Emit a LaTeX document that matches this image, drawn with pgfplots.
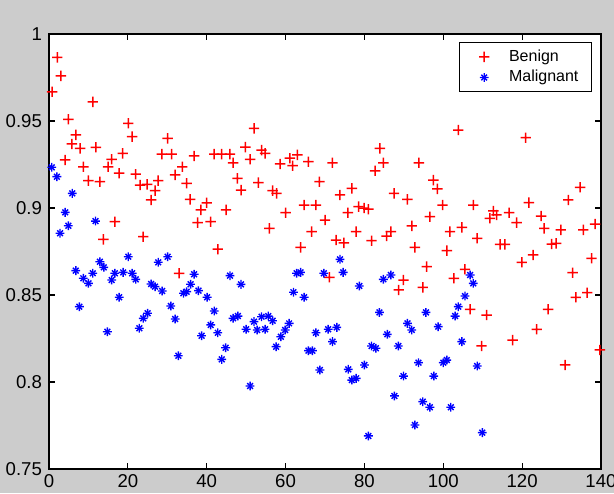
\documentclass[border=0pt]{standalone}
\usepackage{fontspec}
\setmainfont{Liberation Sans}
\usepackage{pgfplots}
\pgfplotsset{compat=1.18}

\definecolor{figgray}{RGB}{204,204,204}

% marks drawn as filled bars (plus; plus and cross for the asterisk)
\pgfdeclareplotmark{mplus}{%
  \pgfsetfillcolor{red}%
  \pgfpathrectangle{\pgfqpoint{-\pgfplotmarksize}{-0.375pt}}{\pgfqpoint{2\pgfplotmarksize}{0.75pt}}%
  \pgfpathrectangle{\pgfqpoint{-0.375pt}{-\pgfplotmarksize}}{\pgfqpoint{0.75pt}{2\pgfplotmarksize}}%
  \pgfusepathqfill}

\pgfdeclareplotmark{mstar}{%
  \pgfsetfillcolor{blue}%
  \pgfpathrectangle{\pgfqpoint{-\pgfplotmarksize}{-0.35pt}}{\pgfqpoint{2\pgfplotmarksize}{0.7pt}}%
  \pgfpathrectangle{\pgfqpoint{-0.35pt}{-\pgfplotmarksize}}{\pgfqpoint{0.7pt}{2\pgfplotmarksize}}%
  \pgfusepathqfill
  \pgfsetstrokecolor{blue}\pgfsetlinewidth{0.7pt}%
  \pgfpathmoveto{\pgfqpoint{-.65\pgfplotmarksize}{-.65\pgfplotmarksize}}%
  \pgfpathlineto{\pgfqpoint{.65\pgfplotmarksize}{.65\pgfplotmarksize}}%
  \pgfpathmoveto{\pgfqpoint{-.65\pgfplotmarksize}{.65\pgfplotmarksize}}%
  \pgfpathlineto{\pgfqpoint{.65\pgfplotmarksize}{-.65\pgfplotmarksize}}%
  \pgfusepathqstroke}

\begin{document}
\begin{tikzpicture}
  % figure background = bounding box (614x493 px at 0.5pt/px)
  \path[use as bounding box, fill=figgray] (-24.5pt,-12pt) rectangle (282.5pt,234.5pt);
  \begin{axis}[
    at={(0,0)}, anchor=south west,
    width=276pt, height=217.5pt, scale only axis,
    xmin=0, xmax=140, ymin=0.75, ymax=1,
    xtick={0,20,...,140},
    ytick={0.75,0.8,0.85,0.9,0.95,1},
    yticklabels={0.75,0.8,0.85,0.9,0.95,1},
    tick align=inside, tick pos=both,
    major tick length=3pt,
    axis line style={line width=0.6pt},
    every tick/.style={black, line width=0.6pt},
    axis background/.style={fill=white},
    tick label style={font=\fontsize{9.3}{11}\selectfont},
    xticklabel style={yshift=1pt},
    /pgf/number format/assume math mode=true,
    legend image code/.code={%
      \path (0cm,0cm) (0.62cm,0cm);
      \draw[#1] plot coordinates {(0.3cm,0cm)};},
    legend style={at={(0.9837,0.9816)}, anchor=north east,
      font=\fontsize{8}{10}\selectfont, draw=black, line width=0.6pt,
      inner xsep=3.5pt, inner ysep=1.5pt, row sep=-1pt,
      nodes={inner xsep=3pt}},
    legend cell align=left,
  ]
    \addplot[only marks, mark=mplus, mark size=2.6pt, color=red] coordinates {
      (0.8,0.9668) (2.1,0.9866) (3.0,0.9759) (4.1,0.9276) (4.9,0.951)
      (5.8,0.9368) (6.8,0.942) (7.9,0.9343) (8.7,0.9237) (10.0,0.9157)
      (11.1,0.961) (11.9,0.9349) (12.9,0.9151) (13.8,0.882) (15.0,0.9237)
      (15.9,0.928) (16.7,0.8921) (17.8,0.920) (18.7,0.9314) (20.1,0.9487)
      (21.1,0.941) (22.0,0.9194) (23.1,0.9132) (23.9,0.8835) (24.9,0.9136)
      (25.9,0.9046) (26.9,0.910) (27.7,0.9157) (28.6,0.931) (30.1,0.940)
      (31.1,0.931) (32.0,0.919) (33.0,0.8625) (33.8,0.9237) (34.9,0.9142)
      (35.8,0.905) (36.8,0.9299) (37.7,0.8916) (38.5,0.8989) (40.0,0.903)
      (41.0,0.8921) (41.9,0.931) (42.8,0.8763) (43.8,0.931) (44.9,0.8989)
      (45.9,0.931) (46.7,0.926) (47.8,0.917) (48.7,0.9103) (49.8,0.935)
      (51.0,0.928) (52.0,0.9458) (53.1,0.9146) (53.9,0.9333) (54.8,0.9314)
      (55.9,0.8883) (56.7,0.910) (57.7,0.9084) (58.6,0.9253) (60.0,0.8973)
      (61.1,0.9286) (61.8,0.9243) (63.0,0.9305) (63.8,0.8774) (64.7,0.9017)
      (65.8,0.9266) (66.6,0.8864) (67.7,0.9017) (68.6,0.9151) (70.0,0.8931)
      (71.1,0.8602) (71.9,0.926) (72.8,0.8816) (73.8,0.9075) (74.8,0.880)
      (75.8,0.8973) (76.8,0.9113) (77.9,0.8864) (78.5,0.9008) (79.9,0.900)
      (81.0,0.8993) (81.8,0.8812) (82.7,0.9214) (83.9,0.9343) (84.8,0.926)
      (85.6,0.8839) (86.7,0.8864) (87.5,0.9084) (88.7,0.8529) (89.9,0.8586)
      (90.9,0.905) (92.0,0.8897) (92.8,0.8774) (93.8,0.926) (94.8,0.8544)
      (95.8,0.8663) (96.6,0.895) (97.5,0.916) (98.5,0.911) (99.8,0.9017)
      (100.9,0.8755) (101.7,0.8864) (102.7,0.8596) (103.8,0.9448) (104.7,0.8889)
      (105.5,0.8648) (106.8,0.8418) (107.6,0.9017) (108.6,0.8826) (109.7,0.8207)
      (111.0,0.8385) (111.8,0.8941) (112.7,0.8983) (113.5,0.896) (114.4,0.8791)
      (115.6,0.8791) (116.7,0.8973) (117.6,0.8241) (118.6,0.8916) (119.9,0.8688)
      (120.9,0.9404) (121.7,0.9031) (122.8,0.873) (123.7,0.8303) (124.8,0.8954)
      (125.6,0.8883) (126.6,0.8418) (127.5,0.8793) (128.6,0.8797) (129.8,0.8874)
      (130.9,0.8098) (131.7,0.9046) (132.8,0.8628) (133.6,0.8487) (134.7,0.9119)
      (135.5,0.8874) (136.5,0.8513) (137.6,0.8711) (138.5,0.8908) (139.7,0.8184)
    };
    \addlegendentry{Benign}
    \addplot[only marks, mark=mstar, mark size=2.2pt, color=blue] coordinates {
      (0.7,0.9234) (2.0,0.918) (2.8,0.8855) (4.1,0.8975) (4.9,0.8898)
      (5.9,0.9084) (6.8,0.864) (7.7,0.8433) (8.7,0.8596) (10.0,0.8567)
      (11.1,0.8625) (11.8,0.8925) (12.9,0.8691) (13.9,0.8659) (14.8,0.8289)
      (15.9,0.8586) (16.7,0.8625) (17.8,0.8487) (18.8,0.863) (20.1,0.872)
      (21.1,0.8625) (22.0,0.859) (22.9,0.8309) (23.9,0.8366) (25.0,0.8395)
      (25.9,0.8563) (26.9,0.8548) (27.7,0.8688) (28.7,0.8523) (30.1,0.872)
      (30.9,0.8437) (32.0,0.8362) (32.8,0.8151) (34.1,0.851) (34.9,0.8519)
      (35.9,0.8562) (36.8,0.8619) (37.9,0.8525) (38.7,0.8266) (40.1,0.8487)
      (41.0,0.8328) (41.9,0.8408) (42.8,0.8283) (43.8,0.813) (44.8,0.8197)
      (45.9,0.8611) (46.7,0.8366) (47.9,0.8379) (48.7,0.8561) (50.0,0.8303)
      (51.0,0.7977) (52.0,0.8347) (52.8,0.8299) (53.9,0.8375) (54.8,0.8303)
      (55.6,0.8379) (56.7,0.8352) (57.6,0.8203) (58.8,0.826) (59.9,0.8299)
      (60.9,0.8337) (62.0,0.8516) (62.8,0.8625) (63.8,0.863) (64.7,0.8487)
      (65.8,0.818) (66.8,0.818) (67.7,0.8283) (68.7,0.8069) (69.7,0.8625)
      (70.8,0.8303) (71.9,0.8232) (73.0,0.8314) (73.8,0.8705) (74.6,0.863)
      (75.9,0.8073) (76.8,0.8011) (77.9,0.8021) (78.7,0.8552) (80.0,0.8098)
      (81.0,0.769) (81.8,0.8207) (82.9,0.8194) (83.8,0.84) (84.8,0.859)
      (85.8,0.8274) (86.7,0.8615) (87.6,0.792) (88.6,0.8207) (89.9,0.8034)
      (90.9,0.8337) (92.0,0.8299) (92.8,0.7753) (93.7,0.8111) (94.8,0.7887)
      (95.6,0.84) (96.6,0.7855) (97.6,0.8034) (98.7,0.8318) (100.0,0.8111)
      (100.9,0.8126) (101.9,0.7855) (103.0,0.8379) (103.8,0.8433) (104.7,0.8232)
      (105.5,0.8494) (106.8,0.8615) (107.6,0.8567) (108.6,0.8092) (109.9,0.7709)
    };
    \addlegendentry{Malignant}
  \end{axis}
\end{tikzpicture}
\end{document}
